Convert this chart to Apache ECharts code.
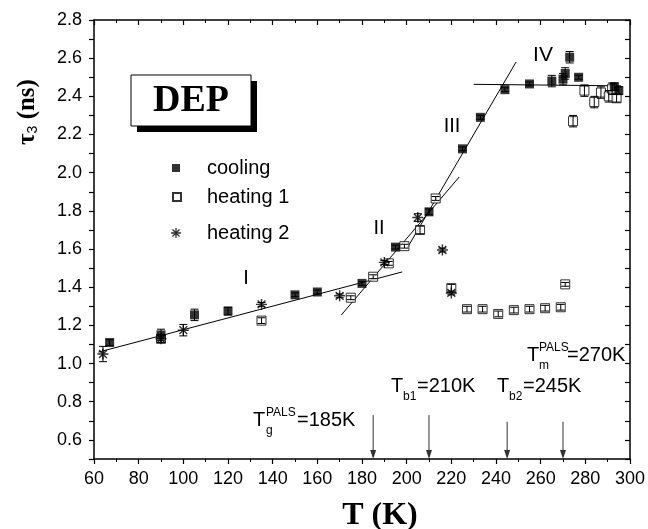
<!DOCTYPE html>
<html><head><meta charset="utf-8">
<script src="https://cdn.jsdelivr.net/npm/echarts@6/dist/echarts.min.js"></script>
<style>html,body{margin:0;padding:0;background:#fff}#c{width:648px;height:529px}</style>
</head><body><div id="c"></div>
<script>
// ---- data ----
const coolT   = [67, 90, 105, 120, 150, 160, 180, 195, 210, 225, 233, 244, 255, 265, 270, 271, 273, 277, 293, 295];
const coolTau = [1.11, 1.15, 1.255, 1.275, 1.36, 1.375, 1.42, 1.61, 1.795, 2.125, 2.29, 2.435, 2.465, 2.48, 2.49, 2.52, 2.605, 2.50, 2.45, 2.43];
const coolErr = [0.015, 0.03, 0.03, 0.02, 0.01, 0.01, 0.01, 0.01, 0.015, 0.01, 0.01, 0.01, 0.01, 0.03, 0.03, 0.03, 0.03, 0.01, 0.02, 0.02];

const heat1T   = [90, 135, 175, 185, 192, 199, 206, 213, 220, 227, 234, 241, 248, 255, 262, 269, 271, 274.5, 279.6, 284, 287, 290.5, 292, 294];
const heat1Tau = [1.13, 1.225, 1.345, 1.455, 1.525, 1.615, 1.70, 1.865, 1.395, 1.285, 1.285, 1.26, 1.28, 1.285, 1.29, 1.295, 1.415, 2.27, 2.43, 2.37, 2.42, 2.40, 2.44, 2.39];
const heat1Err = [0.02, 0.015, 0.01, 0.01, 0.01, 0.01, 0.02, 0.01, 0.02, 0.015, 0.015, 0.015, 0.015, 0.015, 0.015, 0.015, 0.01, 0.03, 0.03, 0.03, 0.03, 0.03, 0.03, 0.02];

const heat2T   = [64, 90, 100, 135, 170, 190, 205, 216, 220];
const heat2Tau = [1.05, 1.13, 1.175, 1.31, 1.355, 1.53, 1.765, 1.595, 1.37];
const heat2Err = [0.04, 0.02, 0.03, 0.01, 0.01, 0.01, 0.02, 0.01, 0.01];

// fitted straight lines (end points)
const lineI   = [[62, 1.06], [198, 1.48]];
const lineII  = [[170.7, 1.254], [223.5, 1.977]];
const lineIII = [[200, 1.60], [249, 2.58]];
const lineIV  = [[230, 2.463], [296, 2.455]];

// transition arrows
const arrowT   = [185, 210, 245, 270];
const arrowTop = [0.73, 0.73, 0.695, 0.695];

const xMin = 60, xMax = 300, xStep = 20;
const yMin = 0.5, yMax = 2.8, yStep = 0.1;

// ---- chart ----
const SANS = 'Liberation Sans, Arial, sans-serif';
const SERIF = 'Liberation Serif, Times New Roman, serif';
const STAR = 'path://M-0.65,-5L0.65,-5L0.65,5L-0.65,5Z M-5,-0.65L5,-0.65L5,0.65L-5,0.65Z ' +
  'M-4.0,-3.08L-3.08,-4.0L4.0,3.08L3.08,4.0Z M-4.0,3.08L3.08,-4.0L4.0,-3.08L-3.08,4.0Z';

const zip = (a, b) => a.map((v, i) => [v, b[i]]);
const errData = (t, v, e) => t.map((x, i) => [x, v[i] - e[i], v[i] + e[i]]);

function errRender(params, api) {
  const x = api.value(0), lo = api.value(1), hi = api.value(2);
  const p1 = api.coord([x, hi]), p2 = api.coord([x, lo]);
  const w = 4, st = {stroke: '#000', lineWidth: 1};
  return {type: 'group', children: [
    {type: 'line', shape: {x1: p1[0], y1: p1[1], x2: p2[0], y2: p2[1]}, style: st},
    {type: 'line', shape: {x1: p1[0] - w, y1: p1[1], x2: p1[0] + w, y2: p1[1]}, style: st},
    {type: 'line', shape: {x1: p2[0] - w, y1: p2[1], x2: p2[0] + w, y2: p2[1]}, style: st}
  ]};
}
function arrowRender(params, api) {
  const x = api.value(0), top = api.value(1);
  const p1 = api.coord([x, top]), p2 = api.coord([x, yMin]);
  return {type: 'group', children: [
    {type: 'line', shape: {x1: p1[0], y1: p1[1], x2: p2[0], y2: p2[1] - 6}, style: {stroke: '#333', lineWidth: 1}},
    {type: 'polygon', shape: {points: [[p2[0], p2[1]], [p2[0] - 3, p2[1] - 9], [p2[0] + 3, p2[1] - 9]]}, style: {fill: '#333'}}
  ]};
}

const lineStyle = {color: '#000', width: 1};
const fitLine = (d) => ({type: 'line', data: d, showSymbol: false, symbol: 'none', lineStyle, silent: true, z: 1, xAxisIndex: 0, yAxisIndex: 0});

const baseX = {min: xMin, max: xMax, interval: xStep, splitLine: {show: false},
  axisLine: {show: true, onZero: false, lineStyle: {color: '#000', width: 1.5}}};
const baseY = {min: yMin, max: yMax, interval: yStep, splitLine: {show: false},
  axisLine: {show: true, onZero: false, lineStyle: {color: '#000', width: 1.5}}};

const chart = echarts.init(document.getElementById('c'), null, {renderer: 'canvas'});
chart.setOption({
  backgroundColor: '#fff',
  animation: false,
  grid: {left: 94, right: 14, top: 20, bottom: 70},
  xAxis: [
    Object.assign({}, baseX, {position: 'bottom', type: 'value',
      axisTick: {show: true, inside: false, length: 5, lineStyle: {color: '#000', width: 1.2}},
      minorTick: {show: true, splitNumber: 2, length: 3, lineStyle: {color: '#000', width: 1}},
      axisLabel: {show: true, margin: 11, fontSize: 18, color: '#000', fontFamily: SANS}}),
    Object.assign({}, baseX, {position: 'top', type: 'value',
      axisTick: {show: true, inside: true, length: 5, lineStyle: {color: '#000', width: 1.2}},
      minorTick: {show: true, splitNumber: 2, length: 3, lineStyle: {color: '#000', width: 1}},
      axisLabel: {show: false}})
  ],
  yAxis: [
    Object.assign({}, baseY, {position: 'left', type: 'value',
      axisTick: {show: true, inside: false, length: 5, lineStyle: {color: '#000', width: 1.2}},
      axisLabel: {show: true, margin: 12, fontSize: 18, color: '#000', fontFamily: SANS,
        formatter: v => (Math.round(v * 10) % 2 === 0 ? v.toFixed(1) : '')}}),
    Object.assign({}, baseY, {position: 'right', type: 'value',
      axisTick: {show: true, inside: true, length: 5, lineStyle: {color: '#000', width: 1.2}},
      axisLabel: {show: false}})
  ],
  legend: [
    {data: [{name: 'cooling', icon: 'rect'}], left: 172, top: 158, padding: 0, itemWidth: 8, itemHeight: 8,
      textStyle: {fontSize: 20, color: '#000', fontFamily: SANS, padding: [0, 0, 0, 22]}, selectedMode: false},
    {data: [{name: 'heating 1', icon: 'rect'}], left: 172, top: 187, padding: 0, itemWidth: 8, itemHeight: 8,
      textStyle: {fontSize: 20, color: '#000', fontFamily: SANS, padding: [0, 0, 0, 21]}, selectedMode: false},
    {data: [{name: 'heating 2', icon: STAR}], left: 171, top: 223, padding: 0, itemWidth: 10, itemHeight: 10,
      textStyle: {fontSize: 20, color: '#000', fontFamily: SANS, padding: [0, 0, 0, 21]}, selectedMode: false}
  ],
  series: [
    fitLine(lineI), fitLine(lineII), fitLine(lineIII), fitLine(lineIV),
    {type: 'custom', renderItem: arrowRender, data: zip(arrowT, arrowTop), silent: true, z: 1},
    {name: 'cooling', type: 'scatter', data: zip(coolT, coolTau), symbol: 'rect', symbolSize: 9,
      itemStyle: {color: '#000'}, z: 3},
    {name: 'heating 1', type: 'scatter', data: zip(heat1T, heat1Tau), symbol: 'rect', symbolSize: 9,
      itemStyle: {color: '#fff', borderColor: '#000', borderWidth: 1}, z: 2},
    {name: 'heating 2', type: 'scatter', data: zip(heat2T, heat2Tau), symbol: STAR, symbolSize: 11,
      itemStyle: {color: '#000'}, z: 3},
    {type: 'custom', renderItem: errRender, data: errData(coolT, coolTau, coolErr), silent: true, z: 4},
    {type: 'custom', renderItem: errRender, data: errData(heat1T, heat1Tau, heat1Err), silent: true, z: 4},
    {type: 'custom', renderItem: errRender, data: errData(heat2T, heat2Tau, heat2Err), silent: true, z: 4}
  ],
  graphic: [
    // DEP box with shadow
    {type: 'rect', shape: {x: 137, y: 81, width: 120, height: 51}, style: {fill: '#000'}, z: 10},
    {type: 'rect', shape: {x: 131, y: 75, width: 120, height: 51}, style: {fill: '#fff', stroke: '#000', lineWidth: 1}, z: 11},
    {type: 'text', x: 191, y: 101, z: 12, style: {text: 'DEP', font: 'bold 38px ' + SERIF, fill: '#000', align: 'center', verticalAlign: 'middle'}},
    // axis titles
    {type: 'text', x: 380, y: 516, z: 12, style: {text: 'T (K)', font: 'bold 32px ' + SERIF, fill: '#000', align: 'center', verticalAlign: 'middle'}},
    {type: 'text', x: 28, y: 112, rotation: Math.PI / 2, z: 12, style: {
      text: '{a|τ}{b|3}{a| (ns)}', align: 'center', verticalAlign: 'middle',
      rich: {a: {fill: '#000', fontSize: 25, fontWeight: 'bold', fontFamily: SERIF},
             b: {fontSize: 14, fontFamily: SANS, fill: '#000', padding: [11, 0, 0, 0]}}}},
    // region labels
    {type: 'text', x: 246, y: 278, z: 12, style: {text: 'I', font: '20px ' + SANS, fill: '#000', align: 'center', verticalAlign: 'middle'}},
    {type: 'text', x: 379, y: 228, z: 12, style: {text: 'II', font: '20px ' + SANS, fill: '#000', align: 'center', verticalAlign: 'middle'}},
    {type: 'text', x: 452, y: 126, z: 12, style: {text: 'III', font: '20px ' + SANS, fill: '#000', align: 'center', verticalAlign: 'middle'}},
    {type: 'text', x: 543, y: 55, z: 12, style: {text: 'IV', font: '21px ' + SANS, fill: '#000', align: 'center', verticalAlign: 'middle'}},
    // T_g^PALS = 185K
    {type: 'text', x: 253, y: 420, z: 12, style: {text: 'T', font: '20px ' + SANS, fill: '#000', verticalAlign: 'middle'}},
    {type: 'text', x: 266, y: 413, z: 12, style: {text: 'PALS', font: '12px ' + SANS, fill: '#000', verticalAlign: 'middle'}},
    {type: 'text', x: 266, y: 431, z: 12, style: {text: 'g', font: '12px ' + SANS, fill: '#000', verticalAlign: 'middle'}},
    {type: 'text', x: 297, y: 420, z: 12, style: {text: '=185K', font: '20px ' + SANS, fill: '#000', verticalAlign: 'middle'}},
    // T_b1 = 210K
    {type: 'text', x: 391, y: 386, z: 12, style: {text: 'T', font: '20px ' + SANS, fill: '#000', verticalAlign: 'middle'}},
    {type: 'text', x: 403, y: 397, z: 12, style: {text: 'b1', font: '12px ' + SANS, fill: '#000', verticalAlign: 'middle'}},
    {type: 'text', x: 417, y: 386, z: 12, style: {text: '=210K', font: '20px ' + SANS, fill: '#000', verticalAlign: 'middle'}},
    // T_b2 = 245K
    {type: 'text', x: 497, y: 386, z: 12, style: {text: 'T', font: '20px ' + SANS, fill: '#000', verticalAlign: 'middle'}},
    {type: 'text', x: 509, y: 397, z: 12, style: {text: 'b2', font: '12px ' + SANS, fill: '#000', verticalAlign: 'middle'}},
    {type: 'text', x: 523, y: 386, z: 12, style: {text: '=245K', font: '20px ' + SANS, fill: '#000', verticalAlign: 'middle'}},
    // T_m^PALS = 270K
    {type: 'text', x: 527, y: 355, z: 12, style: {text: 'T', font: '20px ' + SANS, fill: '#000', verticalAlign: 'middle'}},
    {type: 'text', x: 539, y: 348, z: 12, style: {text: 'PALS', font: '12px ' + SANS, fill: '#000', verticalAlign: 'middle'}},
    {type: 'text', x: 539, y: 366, z: 12, style: {text: 'm', font: '12px ' + SANS, fill: '#000', verticalAlign: 'middle'}},
    {type: 'text', x: 567, y: 355, z: 12, style: {text: '=270K', font: '20px ' + SANS, fill: '#000', verticalAlign: 'middle'}}
  ]
});
</script></body></html>
